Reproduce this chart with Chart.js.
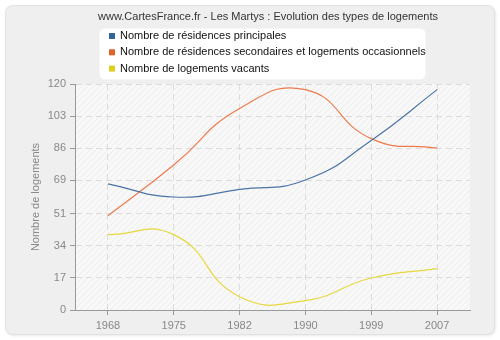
<!DOCTYPE html>
<html>
<head>
<meta charset="utf-8">
<script src="https://cdn.jsdelivr.net/npm/chart.js@4"></script>
<style>
  html, body { margin: 0; padding: 0; background: #ffffff; }
  #wrap { width: 500px; height: 340px; position: relative; }
</style>
</head>
<body>
<div id="wrap"><canvas id="chart" width="500" height="340"></canvas></div>
<script>
const years = ['1968', '1975', '1982', '1990', '1999', '2007'];
const principales = [67, 60, 64, 69, 90, 117];
const secondaires = [50, 77, 107, 117, 91, 86];
const vacants = [40, 40, 7, 5, 17, 22];
const yTicks = [0, 17, 34, 51, 69, 86, 103, 120];

const titleText = 'www.CartesFrance.fr - Les Martys : Evolution des types de logements';
const seriesLabels = [
    'Nombre de résidences principales',
    'Nombre de résidences secondaires et logements occasionnels',
    'Nombre de logements vacants'
];
const lineColors = ['#4a74a6', '#ee7a4a', '#e6d83e'];
const keyColors = ['#336699', '#e0622c', '#dccf22'];
const fontFamily = '"Liberation Sans", Arial, sans-serif';

function hatchPattern(ctx) {
    const c = document.createElement('canvas');
    c.width = 6;
    c.height = 6;
    const p = c.getContext('2d');
    p.fillStyle = '#f8f8f8';
    p.fillRect(0, 0, 6, 6);
    p.strokeStyle = '#ededed';
    p.lineWidth = 1;
    p.beginPath();
    p.moveTo(0, 6);
    p.lineTo(6, 0);
    p.moveTo(-1, 1);
    p.lineTo(1, -1);
    p.moveTo(5, 7);
    p.lineTo(7, 5);
    p.stroke();
    return ctx.createPattern(c, 'repeat');
}

function roundRect(ctx, x, y, w, h, r) {
    ctx.beginPath();
    ctx.moveTo(x + r, y);
    ctx.lineTo(x + w - r, y);
    ctx.quadraticCurveTo(x + w, y, x + w, y + r);
    ctx.lineTo(x + w, y + h - r);
    ctx.quadraticCurveTo(x + w, y + h, x + w - r, y + h);
    ctx.lineTo(x + r, y + h);
    ctx.quadraticCurveTo(x, y + h, x, y + h - r);
    ctx.lineTo(x, y + r);
    ctx.quadraticCurveTo(x, y, x + r, y);
    ctx.closePath();
}

const decor = {
    id: 'decor',
    beforeDraw(chart) {
        const ctx = chart.ctx;
        const a = chart.chartArea;
        ctx.save();
        // outer panel
        ctx.shadowColor = 'rgba(0,0,0,0.12)';
        ctx.shadowBlur = 3;
        ctx.shadowOffsetX = 1;
        ctx.shadowOffsetY = 1;
        roundRect(ctx, 5.5, 5.5, 489, 329, 8);
        ctx.fillStyle = '#efefef';
        ctx.fill();
        ctx.shadowColor = 'transparent';
        ctx.strokeStyle = '#e2e2e2';
        ctx.lineWidth = 1;
        ctx.stroke();
        // plot background
        ctx.fillStyle = hatchPattern(ctx);
        ctx.fillRect(a.left, a.top, a.right - a.left, a.bottom - a.top);
        ctx.restore();
    },
    afterDraw(chart) {
        const ctx = chart.ctx;
        ctx.save();
        ctx.fillStyle = '#333333';
        ctx.font = '11px ' + fontFamily;
        ctx.textAlign = 'center';
        ctx.textBaseline = 'middle';
        ctx.fillText(titleText, 268, 17);
        // legend box
        roundRect(ctx, 99.5, 28.5, 326, 51, 6);
        ctx.fillStyle = '#ffffff';
        ctx.fill();
        ctx.textAlign = 'left';
        ctx.font = '11px ' + fontFamily;
        seriesLabels.forEach((label, i) => {
            const y = 36 + i * 16.3;
            ctx.fillStyle = keyColors[i];
            ctx.fillRect(109, y - 3, 6, 6);
            ctx.fillStyle = '#111111';
            ctx.fillText(label, 120, y);
        });
        ctx.restore();
    }
};

const makeSet = (label, data, i) => ({
    label: label,
    data: data,
    borderColor: lineColors[i],
    backgroundColor: lineColors[i],
    borderWidth: 1.2,
    pointRadius: 0,
    tension: 0.5,
    fill: false
});

new Chart(document.getElementById('chart'), {
    type: 'line',
    data: {
        labels: years,
        datasets: [
            makeSet(seriesLabels[0], principales, 0),
            makeSet(seriesLabels[1], secondaires, 1),
            makeSet(seriesLabels[2], vacants, 2)
        ]
    },
    options: {
        responsive: false,
        animation: false,
        layout: {
            padding: { top: 84, left: 29, right: 30, bottom: 0 }
        },
        plugins: {
            legend: { display: false },
            title: { display: false },
            tooltip: { enabled: false }
        },
        scales: {
            x: {
                offset: true,
                grid: {
                    offset: false,
                    color: '#dcdcdc',
                    tickColor: '#999999',
                    tickLength: 5,
                    tickBorderDash: []
                },
                border: { color: '#999999', dash: [6, 4] },
                ticks: {
                    color: '#888888',
                    padding: 4,
                    font: { size: 11, family: fontFamily }
                },
                afterFit(scale) { scale.height = 30; }
            },
            y: {
                min: 0,
                max: 120,
                afterBuildTicks(scale) {
                    scale.ticks = yTicks.map(v => ({ value: v }));
                },
                grid: {
                    color: '#dcdcdc',
                    tickColor: '#999999',
                    tickLength: 5,
                    tickBorderDash: []
                },
                border: { color: '#999999', dash: [6, 4] },
                ticks: {
                    color: '#888888',
                    padding: 4,
                    font: { size: 11, family: fontFamily }
                },
                title: {
                    display: true,
                    text: 'Nombre de logements',
                    color: '#888888',
                    padding: 0,
                    font: { size: 11, family: fontFamily }
                },
                afterFit(scale) { scale.width = 46; }
            }
        }
    },
    plugins: [decor]
});
</script>
</body>
</html>
